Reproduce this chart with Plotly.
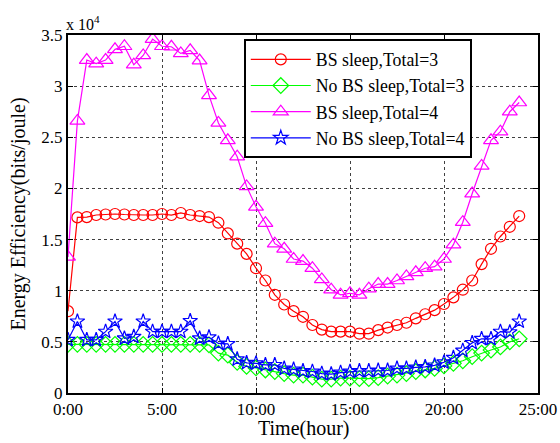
import plotly.graph_objects as go

hours = [i * 0.5 for i in range(49)]

bs_sleep_3 = [0.80, 1.717, 1.72, 1.74, 1.745, 1.75, 1.745, 1.74, 1.74, 1.74, 1.75, 1.74, 1.76, 1.74, 1.73, 1.72,
              1.665, 1.56, 1.46, 1.36, 1.22, 1.10, 0.96, 0.865, 0.80, 0.745, 0.665, 0.62, 0.60, 0.60, 0.60, 0.58,
              0.58, 0.615, 0.64, 0.665, 0.687, 0.73, 0.77, 0.81, 0.87, 0.935, 1.01, 1.10, 1.26, 1.41, 1.53, 1.625, 1.73]

no_bs_sleep_3 = [0.476, 0.476, 0.476, 0.476, 0.476, 0.476, 0.476, 0.476, 0.476, 0.476, 0.476, 0.476, 0.476, 0.476, 0.476, 0.47,
                 0.39, 0.37, 0.30, 0.26, 0.245, 0.225, 0.21, 0.19, 0.175, 0.175, 0.155, 0.135, 0.135, 0.145, 0.145, 0.14,
                 0.14, 0.15, 0.165, 0.175, 0.19, 0.21, 0.225, 0.24, 0.265, 0.29, 0.315, 0.355, 0.39, 0.42, 0.45, 0.50, 0.53]

bs_sleep_4 = [1.33, 2.66, 3.255, 3.22, 3.255, 3.36, 3.39, 3.21, 3.30, 3.46, 3.39, 3.385, 3.32, 3.35, 3.25, 2.91,
              2.64, 2.47, 2.31, 2.02, 1.82, 1.66, 1.46, 1.41, 1.31, 1.29, 1.22, 1.11, 1.01, 0.96, 0.975, 0.96,
              1.02, 1.065, 1.065, 1.10, 1.14, 1.18, 1.22, 1.235, 1.31, 1.45, 1.67, 1.95, 2.22, 2.47, 2.555, 2.75, 2.84]

no_bs_sleep_4 = [0.52, 0.70, 0.52, 0.52, 0.60, 0.70, 0.535, 0.55, 0.70, 0.60, 0.60, 0.60, 0.60, 0.705, 0.535, 0.545,
                 0.485, 0.48, 0.33, 0.295, 0.29, 0.275, 0.275, 0.24, 0.23, 0.215, 0.21, 0.19, 0.185, 0.20, 0.21, 0.215,
                 0.215, 0.22, 0.22, 0.24, 0.24, 0.25, 0.255, 0.27, 0.30, 0.345, 0.415, 0.49, 0.53, 0.53, 0.60, 0.595, 0.70]

x_ticks = [0, 5, 10, 15, 20, 25]
x_tick_labels = ["0:00", "5:00", "10:00", "15:00", "20:00", "25:00"]
y_ticks = [0, 0.5, 1, 1.5, 2, 2.5, 3, 3.5]
y_tick_labels = ["0", "0.5", "1", "1.5", "2", "2.5", "3", "3.5"]

series = [
    ("BS sleep,Total=3", bs_sleep_3, "#ff0000", "circle-open", 11),
    ("No BS sleep,Total=3", no_bs_sleep_3, "#00ff00", "diamond-open", 12),
    ("BS sleep,Total=4", bs_sleep_4, "#ff00ff", "triangle-up-open", 13),
    ("No BS sleep,Total=4", no_bs_sleep_4, "#0000ff", "star-open", 11),
]

fig = go.Figure()
for name, vals, color, sym, size in series:
    fig.add_trace(go.Scatter(
        x=hours, y=vals, name=name, mode="lines+markers",
        line=dict(color=color, width=1.2),
        marker=dict(symbol=sym, size=size, color=color, line=dict(color=color, width=1.2)),
    ))

font_family = "Liberation Serif"
axis_common = dict(
    showline=True, linecolor="black", linewidth=2, mirror="ticks",
    ticks="inside", ticklen=5, tickcolor="black",
    showgrid=True, gridcolor="rgba(0,0,0,0.75)", griddash="dot", gridwidth=1,
    zeroline=False, automargin=False,
    tickfont=dict(family=font_family, size=17, color="black"),
)

fig.update_layout(
    width=560, height=443,
    margin=dict(l=68, r=22, t=35, b=50),
    paper_bgcolor="white", plot_bgcolor="white",
    font=dict(family=font_family, color="black", size=17),
    xaxis=dict(range=[0, 25], tickvals=x_ticks, ticktext=x_tick_labels, **axis_common),
    yaxis=dict(range=[0, 3.5], tickvals=y_ticks, ticktext=y_tick_labels,
               title=dict(text="Energy Efficiency(bits/joule)", font=dict(family=font_family, size=20), standoff=10),
               **axis_common),
    legend=dict(x=0.374, y=0.988, xanchor="left", yanchor="top",
                bgcolor="white", bordercolor="black", borderwidth=2,
                font=dict(family=font_family, size=17.8, color="black"),
                itemwidth=60, tracegroupgap=0),
    showlegend=True,
)

fig.add_annotation(text="x 10<sup>4</sup>", xref="paper", yref="paper", x=-0.008, y=1.0,
                   xanchor="left", yanchor="bottom", showarrow=False,
                   font=dict(family=font_family, size=16, color="black"))

fig.add_annotation(text="Time(hour)", xref="paper", yref="paper", x=0.5, y=-0.1,
                   xanchor="center", yanchor="middle", showarrow=False,
                   font=dict(family=font_family, size=20, color="black"))

fig.write_html("out.html", config={"displayModeBar": False},
               post_script="document.body.style.margin='0';document.body.style.overflow='hidden';")
